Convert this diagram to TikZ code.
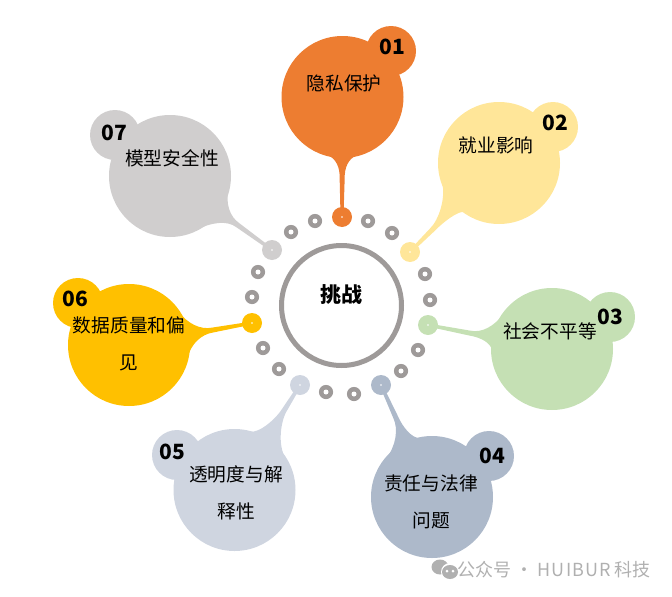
\documentclass[tikz,border=0pt]{standalone}
\usepackage{fontspec}
\setmainfont{Noto Sans CJK SC}
\usetikzlibrary{calc,shapes.geometric}
\definecolor{cOne}{HTML}{ED7D31}
\definecolor{cTwo}{HTML}{FFE699}
\definecolor{cThree}{HTML}{C5E0B4}
\definecolor{cFour}{HTML}{ADB9CA}
\definecolor{cFive}{HTML}{CFD5E0}
\definecolor{cSix}{HTML}{FFC000}
\definecolor{cSeven}{HTML}{D0CECE}
\definecolor{ringgray}{HTML}{9E9A99}
\definecolor{markgray}{HTML}{B0B0B0}
\tikzset{
  bubble/.style ={circle,fill=#1,minimum size=122pt,inner sep=0pt},
  badge/.style  ={circle,fill=#1,minimum size=50pt,inner sep=0pt},
  spot/.style   ={circle,fill=#1,minimum size=20pt,inner sep=0pt},
  bead/.style   ={circle,fill=ringgray,minimum size=14.2pt,inner sep=0pt},
  hub/.style    ={circle,draw=ringgray,line width=5pt,fill=white,
                  minimum size=120pt,inner sep=0pt},
  hubtext/.style={font=\fontsize{21}{25}\selectfont\bfseries},
  num/.style    ={font=\fontsize{21}{25}\selectfont\bfseries},
  txt/.style    ={font=\fontsize{18.7}{37}\selectfont,align=center},
  wmark/.style  ={text=markgray,font=\fontsize{18}{20}\selectfont},
  eye/.style    ={circle,fill=white,minimum size=3pt,inner sep=0pt}
}
% bubble, spot, colour, spread to the left and right of the tail, reach of the flare
\newcommand{\flare}[6]{
  \pgfmathsetmacro\nearA{#4*0.42}
  \pgfmathsetmacro\nearB{-#5*0.42}
  \pgfmathsetmacro\reachC{#6-12}
  \pgfmathsetmacro\sideA{atan(2.5/#6)}
  \fill[#3] ($(#1)!60pt!#4:(#2)$)
    .. controls ($(#1)!62pt!\nearA:(#2)$) and ($(#1)!\reachC pt!\sideA:(#2)$) .. ($(#1)!#6 pt!\sideA:(#2)$)
    -- ($(#1)!1!0.7:(#2)$) -- ($(#1)!1!-0.7:(#2)$) -- ($(#1)!#6 pt!-\sideA:(#2)$)
    .. controls ($(#1)!\reachC pt!-\sideA:(#2)$) and ($(#1)!62pt!\nearB:(#2)$) .. ($(#1)!60pt!-#5:(#2)$) -- cycle;
  \fill[white] (#2) circle (0.8pt);
}
\begin{document}
\begin{tikzpicture}[x=1pt,y=-1pt]
  \useasboundingbox (0,0) rectangle (672,597);
  % Nodes
  \node (hub) [hub] at (341.5,305.5) {};
  \node (hubname) [hubtext] at (341,295) {挑战};
  \foreach \i/\p in {1/{315,221},2/{368,221},3/{392,233},4/{425,274},5/{430,300},
                     6/{418,350},7/{401,371},8/{354,394},9/{326,392},10/{279,369},
                     11/{263,348},12/{252,297},13/{258,272},14/{291,232}}{
    \node (bead\i) [bead] at (\p) {};
    \fill[white] (bead\i) circle (2.5pt);
  }

  \node (spotA) [spot=cOne]   at (342,217) {};
  \node (spotB) [spot=cTwo]   at (410,252) {};
  \node (spotC) [spot=cThree] at (428,325) {};
  \node (spotD) [spot=cFour]  at (381,385) {};
  \node (spotE) [spot=cFive]  at (300,385) {};
  \node (spotF) [spot=cSix]   at (252,323) {};
  \node (spotG) [spot=cSeven] at (272,250) {};

  \node (bubbleA) [bubble=cOne]   at (342.5,97) {};
  \node (bubbleB) [bubble=cTwo]   at (499,163) {};
  \node (bubbleC) [bubble=cThree] at (552,349) {};
  \node (bubbleD) [bubble=cFour]  at (432,497) {};
  \node (bubbleE) [bubble=cFive]  at (234.5,490) {};
  \node (bubbleF) [bubble=cSix]   at (129,345) {};
  \node (bubbleG) [bubble=cSeven] at (170,176) {};

  \node (badgeA) [badge=cOne]   at (391,51) {};
  \node (badgeB) [badge=cTwo]   at (553,127) {};
  \node (badgeC) [badge=cThree] at (610,317) {};
  \node (badgeD) [badge=cFour]  at (489,456) {};
  \node (badgeE) [badge=cFive]  at (177,455) {};
  \node (badgeF) [badge=cSix]   at (78,303) {};
  \node (badgeG) [badge=cSeven] at (115,135) {};

  % Tails
  \flare{bubbleA}{spotA}{cOne}{14}{14}{82}
  \flare{bubbleB}{spotB}{cTwo}{10}{29}{95}
  \flare{bubbleC}{spotC}{cThree}{12}{25}{84}
  \flare{bubbleD}{spotD}{cFour}{26}{13}{88}
  \flare{bubbleE}{spotE}{cFive}{18}{27}{96}
  \flare{bubbleF}{spotF}{cSix}{24}{22}{85}
  \flare{bubbleG}{spotG}{cSeven}{23}{29}{84}

  % Labels
  \node (numA) [num] at (392,47)  {01};
  \node (numB) [num] at (555,123) {02};
  \node (numC) [num] at (610,317) {03};
  \node (numD) [num] at (492,456) {04};
  \node (numE) [num] at (172,452) {05};
  \node (numF) [num] at (75,299)  {06};
  \node (numG) [num] at (114,133) {07};

  \node (txtA) [txt] at (344,83)    {隐私保护};
  \node (txtB) [txt] at (496,145)   {就业影响};
  \node (txtC) [txt] at (550,331)   {社会不平等};
  \node (txtD) [txt] at (431,501.5) {责任与法律\\问题};
  \node (txtE) [txt] at (236,492.5) {透明度与解\\释性};
  \node (txtF) [txt] at (129,343.5) {数据质量和偏\\见};
  \node (txtG) [txt] at (172,158)   {模型安全性};

  % Watermark
  \fill[markgray] (440,567) ellipse (8.5pt and 7.5pt);
  \node (chatback) [circle,fill=white,minimum size=18pt,inner sep=0pt] at (450,572) {};
  \node (chatfront) [ellipse,fill=markgray,minimum width=16pt,minimum height=14pt,inner sep=0pt] at (450,572) {};
  \node (eyeA) [eye] at (447,571) {};
  \node (eyeB) [eye] at (453,571) {};
  \node (wtext) [wmark,anchor=east,inner sep=0pt] at (651,570) {公众号 · {\addfontfeature{LetterSpace=6}HUIBUR} 科技};
\end{tikzpicture}
\end{document}
